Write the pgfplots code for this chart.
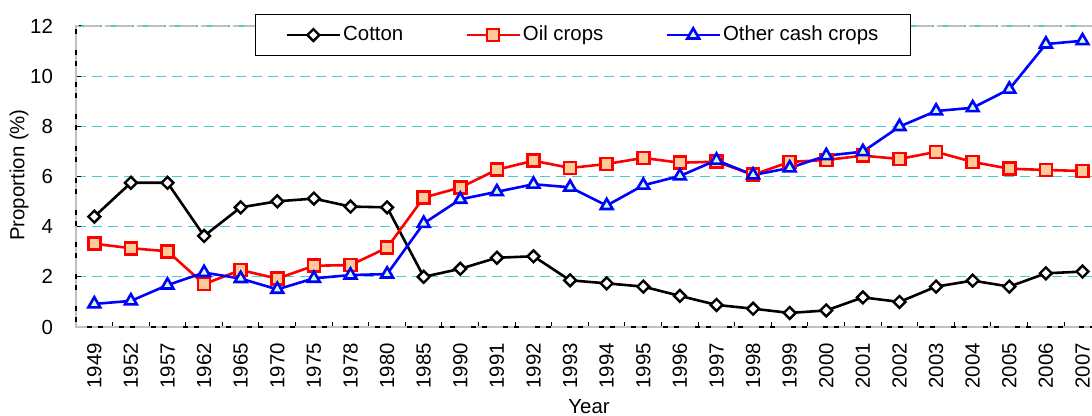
\documentclass[border=0pt]{standalone}
\usepackage{pgfplots}
\pgfplotsset{compat=1.18}
\usepackage{pgfplotstable}
\usepackage{fontspec}
\setmainfont{Liberation Sans}

\definecolor{gridcyan}{RGB}{72,204,210}
\definecolor{bordergray}{RGB}{192,192,192}
\definecolor{peach}{RGB}{255,204,153}
\definecolor{palegreen}{RGB}{204,255,204}

% shares (%) by year, x = category index
\pgfplotstableread{
idx year cotton oil other
0  1949 4.40 3.32 0.92
1  1952 5.75 3.14 1.04
2  1957 5.75 3.02 1.67
3  1962 3.63 1.71 2.17
4  1965 4.77 2.27 1.93
5  1970 5.01 1.93 1.50
6  1975 5.12 2.44 1.94
7  1978 4.80 2.47 2.07
8  1980 4.77 3.16 2.11
9  1985 2.00 5.16 4.13
10 1990 2.32 5.56 5.09
11 1991 2.76 6.27 5.39
12 1992 2.82 6.63 5.69
13 1993 1.86 6.34 5.57
14 1994 1.74 6.50 4.84
15 1995 1.61 6.74 5.65
16 1996 1.24 6.55 6.02
17 1997 0.88 6.59 6.65
18 1998 0.73 6.07 6.06
19 1999 0.56 6.58 6.34
20 2000 0.66 6.66 6.83
21 2001 1.18 6.83 6.99
22 2002 1.00 6.70 7.99
23 2003 1.61 6.98 8.61
24 2004 1.85 6.58 8.74
25 2005 1.61 6.31 9.48
26 2006 2.14 6.26 11.28
27 2007 2.21 6.22 11.41
}\datatable

\begin{document}
\begin{tikzpicture}
\useasboundingbox (-38pt,-44.5pt) rectangle (508pt,163.5pt);
\begin{axis}[
    at={(0,0)}, anchor=south west,
    scale only axis,
    width=508pt, height=150.5pt,
    xmin=-0.5, xmax=27.26,
    ymin=0, ymax=12,
    clip=false,
    axis x line*=bottom,
    axis y line*=left,
    axis line style={-, black, line width=0.6pt},
    tick align=inside,
    xtick={0,...,27},
    xticklabels from table={\datatable}{year},
    major x tick style={draw=none},
    minor xtick={0.5,1.5,...,26.5},
    minor tick length=2.5pt,
    major tick length=2.5pt,
    ytick={0,2,...,12},
    tick style={black, line width=0.5pt},
    ymajorgrids,
    grid style={gridcyan, line width=0.6pt, dash pattern=on 5pt off 3pt},
    /pgf/number format/assume math mode=true,
    tick label style={font=\fontsize{10.2}{12}\selectfont},
    xticklabel style={rotate=90, anchor=east},
    xticklabel shift=4.6pt,
    yticklabel shift=8pt,
    label style={font=\fontsize{10.2}{12}\selectfont},
    xlabel={Year},
    xlabel style={at={(rel axis cs:0.505,-0.289)}, anchor=base},
    ylabel={Proportion (\%)},
    ylabel style={at={(rel axis cs:-0.0507,0.505)}, anchor=base},
    legend columns=3,
    legend style={
        at={(rel axis cs:0.1762,1.0399)}, anchor=north west,
        draw=black, fill=white, line width=0.6pt,
        inner xsep=15pt, inner ysep=4.8pt,
        font=\fontsize{10.2}{12}\selectfont,
        nodes={inner sep=1pt},
        /tikz/every even column/.append style={column sep=30pt},
    },
    legend image code/.code={
        \draw[mark repeat=2, mark phase=2] plot coordinates {(0pt,0pt) (13.25pt,0pt) (26.5pt,0pt)};
    },
]
\draw[bordergray, line width=1pt, dash pattern=on 8pt off 2.5pt on 3pt off 2.5pt]
    (rel axis cs:1,1) -- (rel axis cs:0,1) -- (rel axis cs:0,0) -- (rel axis cs:1,0);

\addplot[black, line width=1.3pt, mark=square*, mark size=2.1pt,
    mark options={rotate=45, fill=white, draw=black, line width=1.2pt}]
    table[x=idx, y=cotton] {\datatable};
\addplot[red, line width=1.3pt, mark=square*, mark size=3pt,
    mark options={fill=peach, draw=red, line width=1.3pt}]
    table[x=idx, y=oil] {\datatable};
\addplot[blue, line width=1.3pt, mark=triangle*, mark size=3.4pt,
    mark options={fill=palegreen, draw=blue, line width=1.3pt}]
    table[x=idx, y=other] {\datatable};

\legend{Cotton, Oil crops, Other cash crops}
\end{axis}
\end{tikzpicture}
\end{document}
